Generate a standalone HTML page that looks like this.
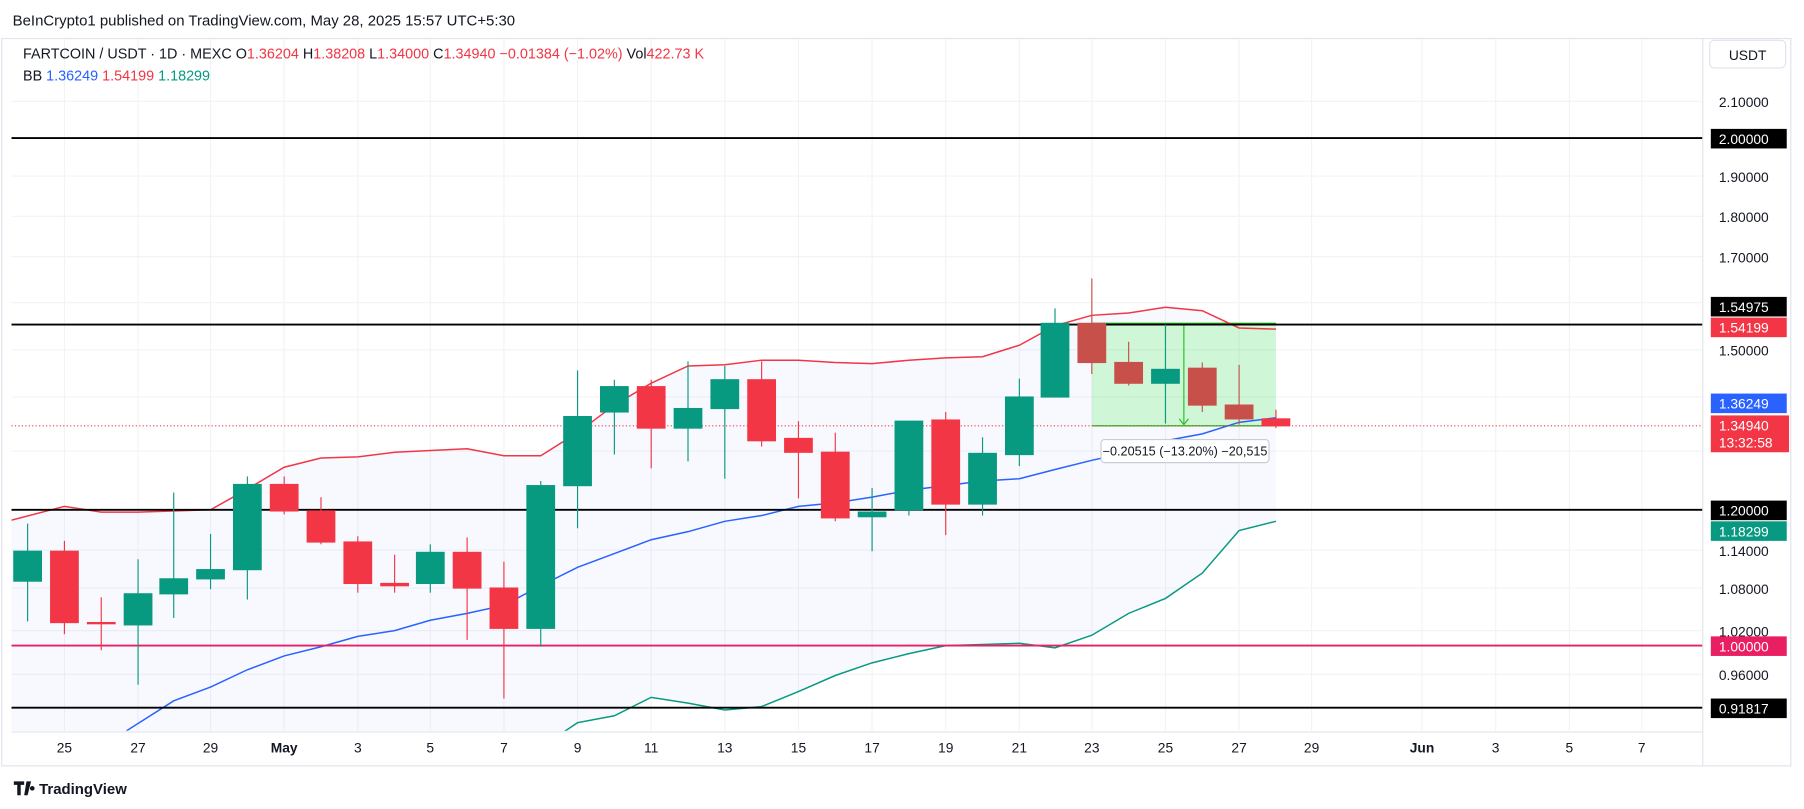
<!DOCTYPE html>
<html><head><meta charset="utf-8"><style>
html,body{margin:0;padding:0;background:#fff;}
svg{display:block;font-family:"Liberation Sans",sans-serif;}
</style></head><body>
<svg width="1804" height="809" viewBox="0 0 1568 703" preserveAspectRatio="none" xmlns="http://www.w3.org/2000/svg">
<rect width="1568" height="703" fill="#fff"/>
<text x="11" y="22" font-size="13" fill="#131722">BeInCrypto1 published on TradingView.com, May 28, 2025 15:57 UTC+5:30</text>
<rect x="1.5" y="33.5" width="1555" height="632" fill="none" stroke="#e0e3eb"/>
<defs><clipPath id="c"><rect x="10" y="34" width="1470" height="601"/></clipPath></defs>
<g stroke="#f2f3f5" stroke-width="1">
<line x1="56" y1="34" x2="56" y2="635"/><line x1="120" y1="34" x2="120" y2="635"/><line x1="183" y1="34" x2="183" y2="635"/><line x1="247" y1="34" x2="247" y2="635"/><line x1="311" y1="34" x2="311" y2="635"/><line x1="374" y1="34" x2="374" y2="635"/><line x1="438" y1="34" x2="438" y2="635"/><line x1="502" y1="34" x2="502" y2="635"/><line x1="566" y1="34" x2="566" y2="635"/><line x1="630" y1="34" x2="630" y2="635"/><line x1="694" y1="34" x2="694" y2="635"/><line x1="758" y1="34" x2="758" y2="635"/><line x1="822" y1="34" x2="822" y2="635"/><line x1="886" y1="34" x2="886" y2="635"/><line x1="949" y1="34" x2="949" y2="635"/><line x1="1013" y1="34" x2="1013" y2="635"/><line x1="1077" y1="34" x2="1077" y2="635"/><line x1="1140" y1="34" x2="1140" y2="635"/><line x1="1236" y1="34" x2="1236" y2="635"/><line x1="1300" y1="34" x2="1300" y2="635"/><line x1="1364" y1="34" x2="1364" y2="635"/><line x1="1427" y1="34" x2="1427" y2="635"/>
<line x1="10" y1="88" x2="1480" y2="88"/><line x1="10" y1="153" x2="1480" y2="153"/><line x1="10" y1="188" x2="1480" y2="188"/><line x1="10" y1="223" x2="1480" y2="223"/><line x1="10" y1="263" x2="1480" y2="263"/><line x1="10" y1="304" x2="1480" y2="304"/><line x1="10" y1="345" x2="1480" y2="345"/><line x1="10" y1="392" x2="1480" y2="392"/><line x1="10" y1="478" x2="1480" y2="478"/><line x1="10" y1="511" x2="1480" y2="511"/><line x1="10" y1="548" x2="1480" y2="548"/><line x1="10" y1="586" x2="1480" y2="586"/>
</g>
<g clip-path="url(#c)">
<polygon fill="#2962ff" fill-opacity="0.04" points="10,452 56,440 88,445 120,445 183,443 215,425 247,406 279,398 311,397 343,393 406,390 438,396 470,396 502,376 534,352 566,333 598,318 630,317 662,313 694,313 726,315 758,316 790,313 822,311 854,310 886,300 917,283 949,274 981,272 1013,267 1045,270 1077,285 1109,286 1109,453 1077,461 1045,498 1013,520 981,533 949,552 917,563 886,559 854,560 822,561 790,568 758,576 726,587 694,601 662,614 630,617 598,611 566,606 534,622 502,628 494,632 480,640 10,640"/>
<rect x="949" y="281" width="160" height="89" fill="#00e600" fill-opacity="0.16"/>
<line x1="949" y1="281" x2="1109" y2="281" stroke="#22c322" stroke-width="1.2"/>
<line x1="949" y1="370" x2="1109" y2="370" stroke="#22c322" stroke-width="1.2"/>
<line x1="1029" y1="281" x2="1029" y2="369" stroke="#22c322"/>
<polyline points="1025,364 1029,369 1033,364" fill="none" stroke="#22c322"/>
<polyline fill="none" stroke="#f23645" stroke-width="1.3" points="10,452 56,440 88,445 120,445 183,443 215,425 247,406 279,398 311,397 343,393 406,390 438,396 470,396 502,376 534,352 566,333 598,318 630,317 662,313 694,313 726,315 758,316 790,313 822,311 854,310 886,300 917,283 949,274 981,272 1013,267 1045,270 1077,285 1109,286"/>
<polyline fill="none" stroke="#2962ff" stroke-width="1.3" points="110,635 151,609 183,597 215,582 247,570 279,562 311,553 343,548 374,539 406,533 438,526 470,509 502,493 534,481 566,469 598,462 630,453 662,448 694,440 726,437 758,432 790,426 822,422 854,418 886,416 917,408 949,400 981,393 1013,383 1045,377 1077,367 1109,363"/>
<polyline fill="none" stroke="#089981" stroke-width="1.3" points="490,636 502,628 534,622 566,606 598,611 630,617 662,614 694,601 726,587 758,576 790,568 822,561 854,560 886,559 917,563 949,552 981,533 1013,520 1045,498 1077,461 1109,453"/>
<line x1="10" y1="120" x2="1480" y2="120" stroke="#000" stroke-width="1.6"/>
<line x1="10" y1="282" x2="1480" y2="282" stroke="#000" stroke-width="1.6"/>
<line x1="10" y1="443" x2="1480" y2="443" stroke="#000" stroke-width="1.6"/>
<line x1="10" y1="561" x2="1480" y2="561" stroke="#e91e63" stroke-width="1.6"/>
<line x1="10" y1="615" x2="1480" y2="615" stroke="#000" stroke-width="1.6"/>
<line x1="10" y1="370" x2="1480" y2="370" stroke="#f23645" stroke-dasharray="1,2"/>
<g stroke-width="1">
<g fill="#089981" stroke="#089981">
<line x1="24" y1="455" x2="24" y2="540"/><rect x="12" y="479" width="24" height="26"/>
<line x1="120" y1="486" x2="120" y2="595"/><rect x="108" y="516" width="24" height="27"/>
<line x1="151" y1="428" x2="151" y2="537"/><rect x="139" y="503" width="24" height="13"/>
<line x1="183" y1="464" x2="183" y2="512"/><rect x="171" y="495" width="24" height="8"/>
<line x1="215" y1="414" x2="215" y2="521"/><rect x="203" y="421" width="24" height="74"/>
<line x1="374" y1="473" x2="374" y2="515"/><rect x="362" y="480" width="24" height="27"/>
<line x1="470" y1="418" x2="470" y2="562"/><rect x="458" y="422" width="24" height="124"/>
<line x1="502" y1="322" x2="502" y2="459"/><rect x="490" y="362" width="24" height="60"/>
<line x1="534" y1="330" x2="534" y2="395"/><rect x="522" y="336" width="24" height="22"/>
<line x1="598" y1="314" x2="598" y2="401"/><rect x="586" y="355" width="24" height="17"/>
<line x1="630" y1="318" x2="630" y2="416"/><rect x="618" y="330" width="24" height="25"/>
<line x1="758" y1="424" x2="758" y2="479"/><rect x="746" y="445" width="24" height="4"/>
<line x1="790" y1="366" x2="790" y2="448"/><rect x="778" y="366" width="24" height="77"/>
<line x1="854" y1="380" x2="854" y2="448"/><rect x="842" y="394" width="24" height="44"/>
<line x1="886" y1="329" x2="886" y2="405"/><rect x="874" y="345" width="24" height="50"/>
<line x1="917" y1="268" x2="917" y2="345"/><rect x="905" y="281" width="24" height="64"/>
<line x1="1013" y1="282" x2="1013" y2="368"/><rect x="1001" y="321" width="24" height="12"/>
</g>
<g fill="#f23645" stroke="#f23645">
<line x1="56" y1="470" x2="56" y2="551"/><rect x="44" y="479" width="24" height="62"/>
<line x1="88" y1="519" x2="88" y2="565"/><rect x="76" y="541" width="24" height="1"/>
<line x1="247" y1="414" x2="247" y2="447"/><rect x="235" y="421" width="24" height="23"/>
<line x1="279" y1="432" x2="279" y2="473"/><rect x="267" y="444" width="24" height="27"/>
<line x1="311" y1="466" x2="311" y2="515"/><rect x="299" y="471" width="24" height="36"/>
<line x1="343" y1="482" x2="343" y2="515"/><rect x="331" y="507" width="24" height="2"/>
<line x1="406" y1="467" x2="406" y2="556"/><rect x="394" y="480" width="24" height="31"/>
<line x1="438" y1="488" x2="438" y2="607"/><rect x="426" y="511" width="24" height="35"/>
<line x1="566" y1="330" x2="566" y2="407"/><rect x="554" y="336" width="24" height="36"/>
<line x1="662" y1="314" x2="662" y2="388"/><rect x="650" y="330" width="24" height="53"/>
<line x1="694" y1="366" x2="694" y2="433"/><rect x="682" y="381" width="24" height="12"/>
<line x1="726" y1="376" x2="726" y2="453"/><rect x="714" y="393" width="24" height="57"/>
<line x1="822" y1="358" x2="822" y2="465"/><rect x="810" y="365" width="24" height="73"/>
</g>
<g fill="#c8504a" stroke="#c8504a">
<line x1="949" y1="242" x2="949" y2="325"/><rect x="937" y="281" width="24" height="34"/>
<line x1="981" y1="297" x2="981" y2="335"/><rect x="969" y="315" width="24" height="18"/>
<line x1="1045" y1="315" x2="1045" y2="358"/><rect x="1033" y="320" width="24" height="32"/>
<line x1="1077" y1="317" x2="1077" y2="369"/><rect x="1065" y="352" width="24" height="12"/>
</g>
<g fill="#f23645" stroke="#f23645">
<line x1="1109" y1="356" x2="1109" y2="372"/><rect x="1097" y="364" width="24" height="6"/>
</g>
</g>
</g>
<rect x="957" y="382" width="146" height="20" rx="3" fill="#fff" stroke="#c8ccd6"/>
<text x="1030" y="396" font-size="11" fill="#131722" text-anchor="middle">−0.20515 (−13.20%) −20,515</text>
<text x="20" y="51" font-size="12.5" fill="#131722">FARTCOIN / USDT · 1D · MEXC  O<tspan fill="#f23645">1.36204</tspan>  H<tspan fill="#f23645">1.38208</tspan>  L<tspan fill="#f23645">1.34000</tspan>  C<tspan fill="#f23645">1.34940</tspan>  <tspan fill="#f23645">−0.01384 (−1.02%)</tspan>  Vol<tspan fill="#f23645">422.73 K</tspan></text>
<text x="20" y="70" font-size="12.5" fill="#131722">BB  <tspan fill="#2962ff">1.36249</tspan>  <tspan fill="#f23645">1.54199</tspan>  <tspan fill="#089981">1.18299</tspan></text>
<line x1="1480" y1="34" x2="1480" y2="665" stroke="#e0e3eb"/>
<line x1="10" y1="636" x2="1480" y2="636" stroke="#e0e3eb"/>
<rect x="1486" y="35" width="66" height="24" rx="4" fill="#fff" stroke="#e0e3eb"/>
<text x="1519" y="52" font-size="12" fill="#131722" text-anchor="middle">USDT</text>
<g font-size="12" fill="#131722">
<text x="1494" y="93">2.10000</text><text x="1494" y="158">1.90000</text><text x="1494" y="193">1.80000</text><text x="1494" y="228">1.70000</text><text x="1494" y="309">1.50000</text><text x="1494" y="483">1.14000</text><text x="1494" y="516">1.08000</text><text x="1494" y="553">1.02000</text><text x="1494" y="591">0.96000</text>
</g>
<g font-size="12" fill="#fff">
<rect x="1487" y="112" width="66" height="17" fill="#000"/><text x="1494" y="125">2.00000</text>
<rect x="1487" y="258" width="66" height="17" fill="#000"/><text x="1494" y="271">1.54975</text>
<rect x="1487" y="276" width="66" height="17" fill="#f23645"/><text x="1494" y="289">1.54199</text>
<rect x="1487" y="342" width="66" height="17" fill="#2962ff"/><text x="1494" y="355">1.36249</text>
<rect x="1487" y="361" width="68" height="32" fill="#f23645"/><text x="1494" y="374">1.34940</text><text x="1494" y="389">13:32:58</text>
<rect x="1487" y="435" width="66" height="17" fill="#000"/><text x="1494" y="448">1.20000</text>
<rect x="1487" y="453" width="66" height="17" fill="#089981"/><text x="1494" y="466">1.18299</text>
<rect x="1487" y="553" width="66" height="17" fill="#e91e63"/><text x="1494" y="566">1.00000</text>
<rect x="1487" y="607" width="66" height="17" fill="#000"/><text x="1494" y="620">0.91817</text>
</g>
<g font-size="12" fill="#131722" text-anchor="middle">
<text x="56" y="654">25</text><text x="120" y="654">27</text><text x="183" y="654">29</text><text x="247" y="654" font-weight="bold">May</text><text x="311" y="654">3</text><text x="374" y="654">5</text><text x="438" y="654">7</text><text x="502" y="654">9</text><text x="566" y="654">11</text><text x="630" y="654">13</text><text x="694" y="654">15</text><text x="758" y="654">17</text><text x="822" y="654">19</text><text x="886" y="654">21</text><text x="949" y="654">23</text><text x="1013" y="654">25</text><text x="1077" y="654">27</text><text x="1140" y="654">29</text><text x="1236" y="654" font-weight="bold">Jun</text><text x="1300" y="654">3</text><text x="1364" y="654">5</text><text x="1427" y="654">7</text>
</g>
<path d="M12 679h9v3h-3v9h-3v-9h-3z M23 679h4l-3 12h-3z M28 683a2 2 0 1 0 .1 0" fill="#131722"/>
<text x="34" y="690" font-size="13" font-weight="bold" fill="#131722">TradingView</text>
</svg>
</body></html>
